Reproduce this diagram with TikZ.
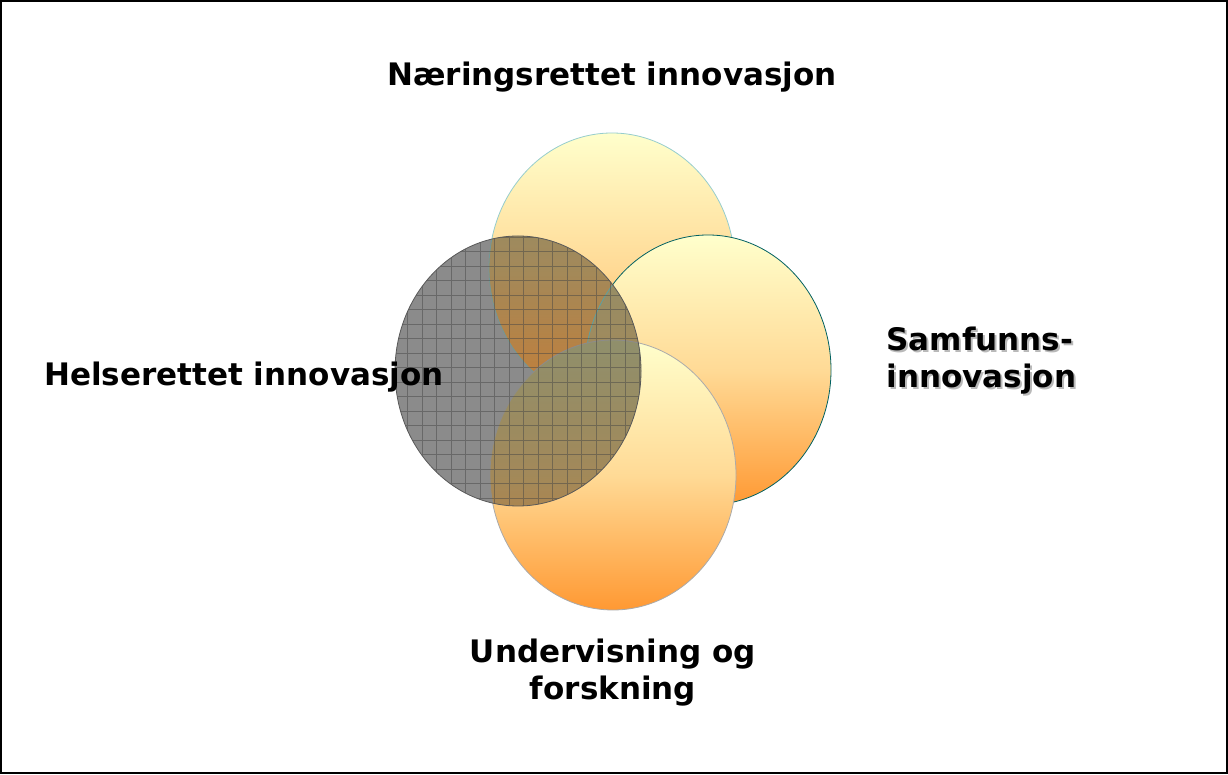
\documentclass[tikz,border=0pt]{standalone}
\usepackage{fontspec}
\setmainfont{DejaVu Sans}
\usetikzlibrary{positioning,shapes.geometric}
\definecolor{lysgul}{RGB}{255,255,204}
\definecolor{midtgul}{RGB}{255,218,150}
\definecolor{oransje}{RGB}{255,153,51}
\definecolor{teallys}{RGB}{150,205,205}
\definecolor{tealmork}{RGB}{0,96,96}
\definecolor{kantgraa}{RGB}{170,170,170}
\definecolor{helsegraa}{RGB}{145,145,145}
\definecolor{slorgraa}{RGB}{128,128,128}
\definecolor{rutegraa}{RGB}{70,70,70}
\tikzstyle{sirkel} = [ellipse, minimum width=246pt, minimum height=270pt, inner sep=0pt]
\tikzstyle{gradient} = [sirkel, top color=lysgul, bottom color=oransje, middle color=midtgul, line width=0.8pt]
\tikzstyle{etikett} = [inner sep=0pt, font=\fontsize{31}{37}\selectfont\bfseries, text=black]

\begin{document}
\begin{tikzpicture}[x=1pt, y=1pt, node distance=40pt]
            \useasboundingbox (0,0) rectangle (1228,774);
            \draw[line width=2pt] (1,1) rectangle (1227,773);

            % Ellipser
            \node (naering) [gradient, draw=teallys] at (612,506) {};
            \node (samfunn) [gradient, draw=tealmork] at (708,404) {};
            \node (undervisning) [gradient, draw=kantgraa] at (613,299) {};

            \node (helse) [sirkel, preaction={fill=helsegraa, fill opacity=1, blend mode=luminosity}, fill=slorgraa, fill opacity=0.3] at (518,403) {};
            \begin{scope}
                \clip (helse.center) ellipse (123pt and 135pt);
                \draw[rutegraa, opacity=0.5, line width=0.6pt, step=14.5, shift={(407.3,522.3)}] (-20,-290) grid (240,20);
            \end{scope}
            \node [sirkel, draw=rutegraa!90, line width=0.8pt] at (helse.center) {};

            % Tekster
            \node (naeringTxt) [etikett, above=40pt of naering] {Næringsrettet innovasjon};
            \node (helseTxt) [etikett, anchor=base] at (244,388) {Helserettet innovasjon};
            \node (samfunnSkygge) [etikett, align=left, text=gray!55, right=55pt of samfunn, xshift=2pt, yshift=7pt] {Samfunns-\\innovasjon};
            \node (samfunnTxt) [etikett, align=left, right=55pt of samfunn, yshift=9pt] {Samfunns-\\innovasjon};
            \node (undervisningTxt) [etikett, align=center, below=28pt of undervisning] {Undervisning og\\forskning};
        \end{tikzpicture}
\end{document}
